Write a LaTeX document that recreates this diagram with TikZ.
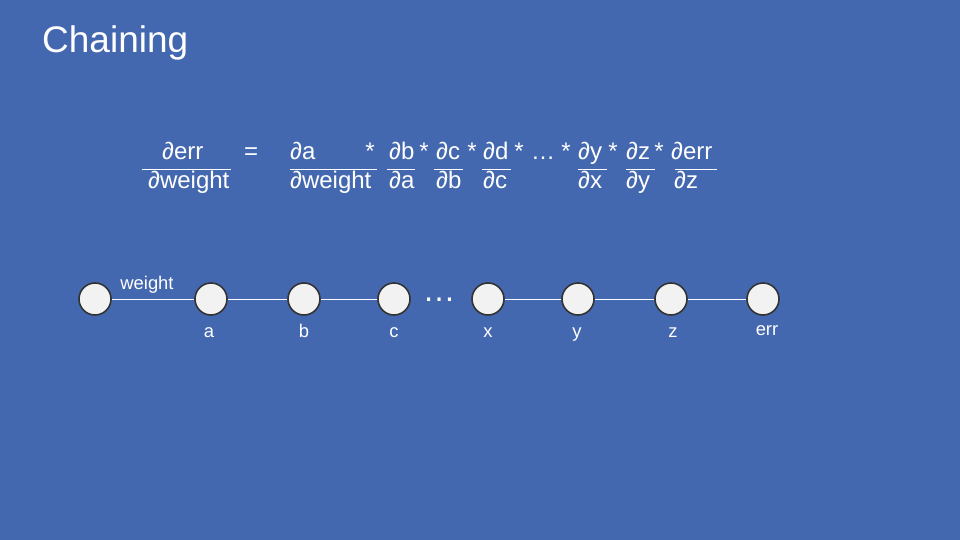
\documentclass[tikz,border=0pt]{standalone}
\usepackage{fontspec}
\setmainfont{Liberation Sans}
\definecolor{bgblue}{RGB}{68,104,176}
\definecolor{nodefill}{RGB}{242,242,242}
\definecolor{nodeline}{RGB}{51,51,51}
\begin{document}
\begin{tikzpicture}[x=1pt,y=-1pt,
  eq/.style={text=white,font=\fontsize{24}{28}\selectfont,inner sep=0pt,anchor=base west},
  star/.style={text=white,font=\fontsize{24}{28}\selectfont,inner sep=0pt,anchor=base},
  fracline/.style={draw=white,line width=0.9pt},
  unit/.style={circle,draw=nodeline,fill=nodefill,line width=1.6pt,minimum size=32pt,inner sep=0pt},
  link/.style={draw=white,line width=0.9pt},
  lbl/.style={text=white,font=\fontsize{18.4}{21}\selectfont,inner sep=0pt,anchor=base}]
\useasboundingbox[fill=bgblue] (0,0) rectangle (960,540);
% title
\node[text=white,font=\fontsize{37}{42}\selectfont,inner sep=0pt,anchor=base west] (title) at (42,53) {Chaining};
% equation
\node[eq] (n1) at (162,160) {∂err};
\node[eq] (d1) at (148,188) {∂weight};
\draw[fracline] (142,169) -- (231,169);
\node[eq] (eqs) at (244,160) {=};
\node[eq] (n2) at (290,160) {∂a};
\node[eq] (d2) at (290,188) {∂weight};
\draw[fracline] (290,169) -- (377,169);
\node[star] (s1) at (370,160) {*};
\node[eq] (n3) at (389,160) {∂b};
\node[eq] (d3) at (389,188) {∂a};
\draw[fracline] (387,169) -- (415,169);
\node[star] (s2) at (424,160) {*};
\node[eq] (n4) at (436,160) {∂c};
\node[eq] (d4) at (436,188) {∂b};
\draw[fracline] (434,169) -- (463,169);
\node[star] (s3) at (472,160) {*};
\node[eq] (n5) at (483,160) {∂d};
\node[eq] (d5) at (483,188) {∂c};
\draw[fracline] (482,169) -- (511,169);
\node[star] (s4) at (519,160) {*};
\node[star] (ell) at (543,160) {…};
\node[star] (s5) at (566,160) {*};
\node[eq] (n6) at (578,160) {∂y};
\node[eq] (d6) at (578,188) {∂x};
\draw[fracline] (578,169) -- (607,169);
\node[star] (s6) at (613,160) {*};
\node[eq] (n7) at (626,160) {∂z};
\node[eq] (d7) at (626,188) {∂y};
\draw[fracline] (626,169) -- (655,169);
\node[star] (s7) at (659,160) {*};
\node[eq] (n8) at (671,160) {∂err};
\node[eq] (d8) at (674,188) {∂z};
\draw[fracline] (675,169) -- (717,169);
% chain
\node[unit] (u0) at (95,299) {};
\node[unit] (ua) at (211,299) {};
\node[unit] (ub) at (304,299) {};
\node[unit] (uc) at (394,299) {};
\node[unit] (ux) at (488,299) {};
\node[unit] (uy) at (578,299) {};
\node[unit] (uz) at (671,299) {};
\node[unit] (ue) at (763,299) {};
\draw[link] (u0) -- (ua);
\draw[link] (ua) -- (ub);
\draw[link] (ub) -- (uc);
\draw[link] (ux) -- (uy);
\draw[link] (uy) -- (uz);
\draw[link] (uz) -- (ue);
\node[text=white,font=\fontsize{33}{36}\selectfont,inner sep=0pt,anchor=base] (dots) at (439,301.5) {…};
\node[lbl] (lw) at (147,289) {weight};
\node[lbl] (la) at (209,337) {a};
\node[lbl] (lb) at (304,337) {b};
\node[lbl] (lc) at (394,337) {c};
\node[lbl] (lx) at (488,337) {x};
\node[lbl] (ly) at (577,337) {y};
\node[lbl] (lz) at (673,337) {z};
\node[lbl] (le) at (767,335) {err};
\end{tikzpicture}
\end{document}
